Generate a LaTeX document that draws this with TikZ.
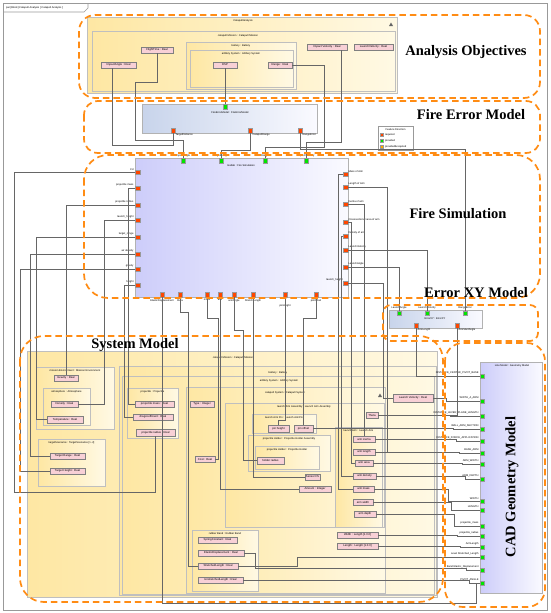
\documentclass[tikz,border=0pt]{standalone}
\usepackage{fontspec}
\setmainfont{Liberation Serif}
\setsansfont{Liberation Sans}
\usetikzlibrary{shadows,calc}
\definecolor{orgc}{RGB}{255,140,20}
\definecolor{yelA}{RGB}{254,231,163}
\definecolor{yelB}{RGB}{255,249,228}
\definecolor{pinkc}{RGB}{248,208,214}
\definecolor{lavA}{RGB}{205,205,250}
\definecolor{lavB}{RGB}{250,250,255}
\definecolor{grA}{RGB}{200,212,235}
\definecolor{redp}{RGB}{255,70,0}
\definecolor{grnp}{RGB}{0,230,0}
\definecolor{orgp}{RGB}{255,170,0}
\newcommand\tinyf{\sffamily\fontsize{2.6}{3}\selectfont}
\newcommand\propf{\sffamily\fontsize{2.8}{3}\selectfont}
\newcommand\bigf{\rmfamily\bfseries\fontsize{14.5}{15}\selectfont}
\newcommand\propnode[6]{\node[prop, minimum width={#4-#2}, minimum height={#5-#3}] (#1) at ({(#2+#4)/2},{(#3+#5)/2}) {#6};}
\newcommand\blocknode[6]{\node[#2, minimum width={#5-#3}, minimum height={#6-#4}] (#1) at ({(#3+#5)/2},{(#4+#6)/2}) {};}
\tikzset{
  frm/.style={draw=black!40, line width=0.6pt},
  region/.style={draw=orgc, line width=1.7pt, dash pattern=on 6.5pt off 4pt},
  conn/.style={draw=black!60, line width=0.35pt},
  prop/.style={draw=black!50, fill=pinkc, line width=0.3pt, font=\propf, inner sep=0pt,
     drop shadow={shadow xshift=0.8pt, shadow yshift=-0.8pt, fill=black!35}},
  yblk/.style={draw=black!25, line width=0.4pt, left color=yelA, right color=yelB, inner sep=0pt,
     drop shadow={shadow xshift=1.3pt, shadow yshift=-1.3pt, fill=black!22}},
  bblk/.style={draw=black!30, line width=0.4pt, left color=lavA, right color=lavB, inner sep=0pt,
     drop shadow={shadow xshift=1.3pt, shadow yshift=-1.3pt, fill=black!22}},
  gblk/.style={draw=black!30, line width=0.4pt, left color=grA, right color=lavB, inner sep=0pt,
     drop shadow={shadow xshift=1.3pt, shadow yshift=-1.3pt, fill=black!22}},
  ttl/.style={font=\tinyf, inner sep=0pt},
  plab/.style={font=\tinyf, inner sep=0.3pt},
  rport/.style={draw=black!40, line width=0.2pt, fill=redp, minimum size=4.5pt, inner sep=0pt},
  gport/.style={draw=black!40, line width=0.2pt, fill=grnp, minimum size=4.5pt, inner sep=0pt},
  bigl/.style={font=\bigf, inner sep=0pt}
}
\begin{document}
\begin{tikzpicture}[x=1pt,y=-1pt]
\useasboundingbox (0,0) rectangle (550,613);
\fill[white] (0,0) rectangle (550,613);
% frame
\draw[frm] (3,3) rectangle (547,610);
\draw[frm] (3,12) -- (84,12) -- (88,8) -- (88,3);
\node[anchor=west, font=\tinyf, inner sep=0pt] (tab) at (6,7.5) {par [Block] Catapult Analysis [ Catapult Analysis ]};

% ===== Analysis objectives blocks
\blocknode{ca}{yblk}{87}{17}{397}{93}
\node[ttl] (catl) at (243,20.5) {CatapultAnalysis};
\fill[black!60] (389,26) -- (393,26) -- (391,22.5) -- cycle;
\blocknode{cmA}{yblk}{92}{31}{395}{91}
\node[ttl] (cmAt) at (238,35.5) {catapult Mission : Catapult Mission};
\blocknode{batA}{yblk}{186}{42}{296}{89}
\node[ttl] (batAt) at (241,45.5) {battery : Battery};
\blocknode{artA}{yblk}{190}{50}{293}{87}
\node[ttl] (artAt) at (241,53.5) {artillery System : Artillery System};
\propnode{ia}{101}{62}{136}{68}{ImpactAngle : Real}
\propnode{ft}{141}{47}{173}{53}{FlightTime : Real}
\propnode{dsp}{213}{62}{237}{68}{DSP}
\propnode{rng}{268}{62}{292}{68}{Range : Real}
\propnode{iv}{307}{44}{347}{50}{Impact Velocity : Real}
\propnode{lvA}{354}{44}{393}{50}{LaunchVelocity : Real}

% ===== Fire error model
\blocknode{fem}{gblk}{142}{104}{317}{133}
\node[ttl] (femt) at (230,112.5) {FireErrorModel : FireErrorModel};
% legend
\node[draw=black!40, fill=white, line width=0.3pt, minimum width=35pt, minimum height=24pt, inner sep=0pt] (leg) at (395.5,138) {};
\node[ttl] (legt) at (395.5,129.5) {Feature Direction};
\node[rport, minimum size=3pt] (lg1) at (382,134.5) {};
\node[gport, minimum size=3pt] (lg2) at (382,140.5) {};
\node[rport, fill=orgp, minimum size=3pt] (lg3) at (382,146.5) {};
\node[plab, anchor=west] at (384.5,134.5) {required};
\node[plab, anchor=west] at (384.5,140.5) {provided};
\node[plab, anchor=west] at (384.5,146.5) {provided\&required};

% ===== Fire simulation
\blocknode{fs}{bblk}{135}{158}{348}{297}
\node[ttl] (fst) at (241,166) {matlab : Fire Simulation};

% ===== Error XY
\blocknode{exy}{gblk}{389}{310}{482}{328}
\node[ttl] (exyt) at (435,318.5) {ErrorXY : ErrorXY};

% ===== System model blocks
\blocknode{cmB}{yblk}{27}{351}{437}{597}
\node[ttl] (cmBt) at (233,357.5) {catapult Mission : Catapult Mission};
\blocknode{me}{yblk}{36}{367}{114}{429}
\node[ttl] (met) at (75,370.5) {mission Environment : Mission Environment};
\propnode{grav}{54}{375}{78}{381}{Gravity : Real}
\blocknode{atm}{yblk}{43}{388}{90}{425}
\node[ttl] (atmt) at (66.5,392) {atmosphere : Atmosphere};
\propnode{dens}{51}{401}{78}{407}{Density : Real}
\propnode{temp}{47}{416}{83}{423}{Temperature : Real}
\blocknode{ts}{yblk}{38}{439}{105}{486}
\node[ttl] (tst) at (71.5,443) {targetScenarios : TargetScenarios [1..2]};
\propnode{trg}{50}{453}{85}{459}{Target Range : Real}
\propnode{thg}{50}{468}{85}{474}{Target Height : Real}
\blocknode{bat}{yblk}{119}{366}{436}{595}
\node[ttl] (batt) at (278,372.5) {battery : Battery};
\blocknode{art}{yblk}{122}{376}{434}{594}
\node[ttl] (artt) at (279,381) {artillery System : Artillery System};
\blocknode{proj}{yblk}{127}{388}{178}{438}
\node[ttl] (projt) at (152.5,392) {projectile : Projectile};
\propnode{pm}{135}{401}{174}{407}{projectile mass : Real}
\propnode{dc}{133}{414}{173}{420}{dragcoefficient : Real}
\propnode{pr}{136}{429}{175}{436}{projectile radius : Real}
\blocknode{cs}{yblk}{186}{387}{385}{593}
\node[ttl] (cst) at (285,392.5) {catapult System : Catapult System};
\fill[black!60] (378,397) -- (382,397) -- (380,393.5) -- cycle;
\propnode{type}{190}{401}{214}{407}{Type : Integer}
\propnode{cost}{195}{456}{215}{462}{Cost : Real}
\blocknode{laa}{yblk}{225}{403}{384}{527}
\node[ttl] (laat) at (304,406.5) {launch Arm Assembly : Launch Arm Assembly};
\blocknode{lap}{yblk}{252}{414}{316}{433}
\node[ttl] (lapt) at (284,418) {launch Arm Pin : Launch ArmPin};
\propnode{ph}{268}{425}{289}{432}{pin height}
\propnode{po}{294}{425}{313}{432}{pin offset}
\blocknode{pha}{yblk}{248}{435}{330}{471}
\node[ttl] (phat) at (289,438.5) {projectile Holder : Projectile Holder Assembly};
\blocknode{phi}{yblk}{255}{446}{319}{469}
\node[ttl] (phit) at (287,449.5) {projectile Holder : Projectile Holder};
\propnode{hr}{257}{457}{284}{464}{holder radius}
\propnode{sfs}{305}{474}{320}{480}{Sensor FS}
\propnode{amt}{299}{486}{331}{492}{Amount : Integer}
\blocknode{la}{yblk}{335}{427}{382}{527}
\node[ttl] (lat) at (358.5,430.5) {launch Arm : Launch Arm};
\propnode{theta}{366}{412}{378}{418}{Theta}
\propnode{ai}{353}{436}{375}{442}{arm inertia}
\propnode{al}{353}{449}{375}{455}{arm length}
\propnode{aa}{355}{460}{373}{466}{arm area}
\propnode{ad}{353}{473}{376}{479}{arm density}
\propnode{am}{353}{486}{374}{492}{arm mass}
\propnode{aw}{353}{499}{373}{505}{arm width}
\propnode{adp}{354}{511}{376}{517}{arm depth}
\propnode{lvS}{393}{394}{433}{402}{Launch Velocity : Real}
\propnode{wd}{337}{532}{378}{538}{Width : Length [1.0.0]}
\propnode{ln}{337}{543}{378}{549}{Length : Length [1.0.0]}
\blocknode{rb}{yblk}{192}{530}{258}{591}
\node[ttl] (rbt) at (225,533.5) {rubber Band : Rubber Band};
\propnode{sc}{198}{537}{237}{543}{SpringConstant : Real}
\propnode{ed}{198}{550}{244}{556}{ElasticDisplacement : Real}
\propnode{sl}{198}{563}{238}{569}{StretchedLength : Real}
\propnode{ul}{198}{577}{243}{583}{UnstretchedLength : Real}

% ===== CAD geometry block
\blocknode{gm}{bblk}{480}{362}{542}{593}
\node[ttl] (gmt) at (512,365.5) {Line Model : Geometry Model};

% ===== ports
\node[gport] (femT) at (225,106.5) {};
\node[rport] (femB1) at (173,130.5) {};
\node[rport] (femB2) at (250,130.5) {};
\node[rport] (femB3) at (300,130.5) {};
\node[plab, anchor=north west] at (175,133) {TargetDistance};
\node[plab, anchor=north west] at (252,133) {CatapultRange};
\node[plab, anchor=north west] at (302,133) {RangeError};

\foreach \n/\x/\t in {1/183/impactAngle, 2/221/targetRange, 3/265/Range, 4/306/impactVelocity}{
  \node[gport] (fsT\n) at (\x,160.5) {};
  \node[plab, anchor=south] at (\x,157.5) {\t};
}
\foreach \n/\y/\t in {1/172/Cd, 2/188/projectile mass, 3/205/projectile radius, 4/220/launch\_height, 5/237/target\_range, 6/254/air density, 7/269/gravity, 8/285/height}{
  \node[rport] (fsL\n) at (137.5,\y) {};
  \node[plab, anchor=south east] at (134,\y-1) {\t};
}
\foreach \n/\y/\t in {1/174/Mass of Arm, 2/187/Length of Arm, 3/204/Inertia of arm, 4/222/Crosssectional area of arm, 5/236/Density of arm, 6/250/LaunchVelocity, 7/267/LaunchAngle}{
  \node[rport] (fsR\n) at (345.5,\y) {};
  \node[plab, anchor=south west] at (348,\y-1) {\t};
}
\node[rport] (fsR8) at (345.5,283) {};
\node[plab, anchor=south east] at (343,282) {launch\_height};
\foreach \n/\x/\t/\yy in {1/162/ElasticDisplacement/299, 2/180/theta/299, 3/207/mass/299, 4/220/arm/299, 5/234/armAngle/299, 6/253/StretchLength/299, 7/285/pinHeight/304, 8/316/pinOffset/299}{
  \node[rport] (fsB\n) at (\x,294.5) {};
  \node[plab, anchor=north] at (\x,\yy) {\t};
}
\foreach \n/\x/\t in {1/399/LaunchAngle, 2/427/LaunchVelocity, 3/465/RangeError}{
  \node[gport] (exT\n) at (\x,313) {};
  \node[plab, anchor=south] at (\x,309.5) {\t};
}
\node[rport] (exB1) at (416,325.5) {};
\node[rport] (exB2) at (457,325.5) {};
\node[plab, anchor=north west] at (417,328) {ArmLength};
\node[plab, anchor=north west] at (458,328) {ArmStartAngle};

\foreach \n/\y/\t in {1/376/DISTANCE\_CENTER\_PIVOT\_BASE, 2/401/WIDTH\_A\_ARM, 3/416/DISTANCE\_LEVER\_PLANE\_LENGTH, 4/429/WALL\_ARM\_SECTION, 5/441/DISTANCE\_FORCE\_APPLICATION, 6/453/BASE\_ARM, 7/464/ARM\_WIDTH, 8/479/ARM\_DEPTH, 9/501/WIDTH, 10/510/LENGTH, 11/526/projectile\_mass, 12/536/projectile\_radius, 13/547/ArmLength, 14/557/Level Stretched\_Length, 15/570/Band Elastic\_Displacement, 16/583/PIVOT\_ANGLE}{
  \node[gport] (c\n) at (482,\y) {};
  \node[plab, anchor=south east] at (479,\y-1.5) {\t};
}

% ===== connectors
\draw[conn] (ia.south) ++(-6.5,0) -- (112,145) -| (femB1.south);
\draw[conn] (ft.south) -- (157,82) -- (135,82) -- (135,140) -| (fsT1.north);
\draw[conn] (dsp.south) -- (femT.north);
\draw[conn] (rng.east) -- (324,65) -- (324,147) -| (fsT3.north);
\draw[conn] (femB2.south) -- (250,150) -| (fsT2.north);
\draw[conn] (iv.south) ++(14,0) -- (341,142) -| (fsT4.north);
\draw[conn] (femB3.south) -- (300,149) -| (exT3.north);
% left ports
\draw[conn] (fsL1.west) -| (14,492) -| (pr.south);
\draw[conn] (fsL2.west) -| (128,404) -- (pm.west);
\draw[conn] (fsL3.west) -| (grav.north);
\draw[conn] (fsL4.west) -| (104,404) -- (dens.east);
\draw[conn] (fsL5.west) -| (36,419.5) -- (temp.west);
\draw[conn] (fsL6.west) -| (30,456) -- (trg.west);
\draw[conn] (fsL7.west) -| (20,471) -- (thg.west);
\draw[conn] (fsL8.west) -| (124,417) -- (dc.west);
% right ports
\draw[conn] (fsR1.west) -- (338,174) |- (am.west);
\draw[conn] (fsR2.east) -| (387,452) -- (al.east);
\draw[conn] (fsR3.east) -| (ai.north);
\draw[conn] (fsR4.east) -| (351,463) -- (aa.west);
\draw[conn] (fsR5.west) -| (341,476) -- (ad.west);
\draw[conn] (fsR6.east) -| (exT2.north);
\draw[conn] (fsR7.east) -| (exT1.north);
\draw[conn] (fsR8.east) -| (383,398) -- (lvS.west);
% error xy outputs
\draw[conn] (exB1.south) |- (c1.west);
\draw[conn] (exB2.south) |- (theta.east);
% CAD inputs
\draw[conn] (lvS.east) -- (446,398) |- (c2.west);
\draw[conn] (theta.east) -- (450,415) |- (c3.west);
\draw[conn] (po.east) -- (453,428.5) |- (c4.west);
\draw[conn] (ai.east) -- (456,439) |- (c5.west);
\draw[conn] (al.east) -- (459,452) |- (c6.west);
\draw[conn] (aa.east) -- (462,463) |- (c7.west);
\draw[conn] (ad.east) -- (465,476) |- (c8.west);
\draw[conn] (am.east) -- (448,489) |- (c9.west);
\draw[conn] (aw.east) -- (451,502) |- (c10.west);
\draw[conn] (adp.east) -- (454,514) |- (c11.west);
\draw[conn] (wd.east) -- (457,535) |- (c12.west);
\draw[conn] (ln.east) -- (460,546) |- (c13.west);
\draw[conn] (sl.east) -- (297,566) -- (297,557) -- (c14.west);
\draw[conn] (ed.east) -- (255,553) -- (255,568) -- (466,568) |- (c15.west);
\draw[conn] (ul.east) -- (469,580) |- (c16.west);
% bottom ports
\draw[conn] (fsB1.south) -- (162,603) -| (476,583) -- (c16.west);
\draw[conn] (fsB2.south) -- (180,312) -- (188,312) |- (sl.west);
\draw[conn] (fsB3.south) -- (207,318) -- (218,318) |- (cost.east);
\draw[conn] (fsB4.south) |- (amt.west);
\draw[conn] (fsB5.south) -- (234,330) -- (243,330) |- (hr.west);
\draw[conn] (fsB6.south) |- (sfs.west);
\draw[conn] (fsB7.south) -- (285,420) -| (ph.north);
\draw[conn] (fsB8.south) -- (316,318) -| (po.north);

% ===== dashed regions
\draw[region, rounded corners=16pt] (79,15) rectangle (540,98);
\draw[region, rounded corners=14pt] (84,101) rectangle (540,153);
\draw[region, rounded corners=24pt] (84,155) rectangle (540,298);
\draw[region, rounded corners=8pt] (383,305) rectangle (538,341);
\draw[region, rounded corners=24pt] (20,336) rectangle (443,602);
\draw[region, rounded corners=18pt] (445,343) rectangle (545,607);

% ===== region labels
\node[bigl] (lAO) at (466,52) {Analysis Objectives};
\node[bigl] (lFE) at (471,115) {Fire Error Model};
\node[bigl] (lFS) at (458,214) {Fire Simulation};
\node[bigl] (lEX) at (476,293) {Error XY Model};
\node[bigl] (lSM) at (135,345) {System Model};
\node[bigl, rotate=90] (lCAD) at (512,487) {CAD Geometry Model};
\end{tikzpicture}
\end{document}
